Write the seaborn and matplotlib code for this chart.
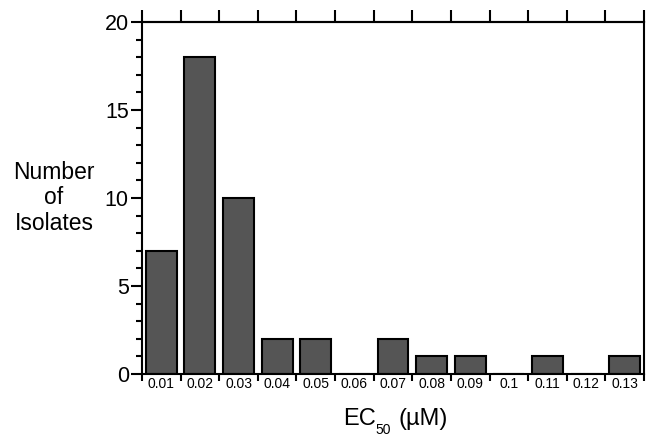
import matplotlib
matplotlib.use("Agg")
import matplotlib.pyplot as plt
from matplotlib.ticker import MultipleLocator, FixedLocator
import seaborn as sns
import pandas as pd

categories = ["0.01", "0.02", "0.03", "0.04", "0.05", "0.06", "0.07",
              "0.08", "0.09", "0.1", "0.11", "0.12", "0.13"]
counts = [7, 18, 10, 2, 2, 0, 2, 1, 1, 0, 1, 0, 1]
y_ticks = [0, 5, 10, 15, 20]

sns.set_style("white", {"text.color": "black", "axes.labelcolor": "black",
                        "xtick.color": "black", "ytick.color": "black",
                        "axes.edgecolor": "black"})
plt.rcParams['font.family'] = ['Liberation Sans', 'DejaVu Sans']

df = pd.DataFrame({"EC50": categories, "count": counts})

W, H = 646, 437
fig = plt.figure(figsize=(W / 100, H / 100), dpi=100)
ax = fig.add_axes([142 / W, 1 - 374 / H, (644 - 142) / W, (374 - 22) / H])

sns.barplot(data=df, x="EC50", y="count", order=categories, color="#555555",
            saturation=1, edgecolor="black", linewidth=1.5, width=0.8, ax=ax)

n = len(categories)
ax.set_xlim(-0.5, n - 0.5)
ax.set_ylim(0, 20)

for side in ["left", "right", "top", "bottom"]:
    ax.spines[side].set_visible(True)
    ax.spines[side].set_color("black")
    ax.spines[side].set_linewidth(1.5)

# y ticks
ax.yaxis.set_major_locator(FixedLocator(y_ticks))
ax.yaxis.set_minor_locator(MultipleLocator(1))
ax.tick_params(axis="y", which="major", direction="out", length=8, width=1.5,
               labelsize=15.5, left=True, right=False, pad=1.5, colors="black")
ax.tick_params(axis="y", which="minor", direction="out", length=4, width=1.5,
               left=True, right=False, colors="black")

# x: labels at centers (no tick marks), tick marks at category boundaries
boundaries = [i - 0.5 for i in range(n + 1)]
ax.set_xticks(range(n))
ax.set_xticklabels(categories)
ax.set_xticks(boundaries, minor=True)
ax.tick_params(axis="x", which="major", length=0, labelsize=10, pad=2.5,
               bottom=True, top=False, colors="black")
ax.tick_params(axis="x", which="minor", direction="out", length=5, width=1.5,
               bottom=True, top=False, colors="black")
sec = ax.secondary_xaxis("top")
sec.set_xticks(boundaries)
sec.tick_params(axis="x", direction="out", length=9, width=1.5, labeltop=False,
                colors="black")
sec.spines["top"].set_linewidth(1.5)

ax.set_xlabel("")
ax.set_ylabel("Number\nof\nIsolates", fontsize=16.5, rotation=0, ha="center",
              va="center", linespacing=1.15, color="black")
ax.yaxis.set_label_coords(-(142 - 54) / (644 - 142), 0.5)

# x-axis title: EC with a deep subscript 50, then (µM)
fig.text(343 / W, 1 - 425 / H, "EC", fontsize=17, ha="left", va="baseline",
         color="black")
fig.text(375 / W, 1 - 434.5 / H, "50", fontsize=10, ha="left", va="baseline",
         color="black")
fig.text(398 / W, 1 - 425 / H, "(µM)", fontsize=17, ha="left", va="baseline",
         color="black")

fig.savefig("out.png", dpi=100)
